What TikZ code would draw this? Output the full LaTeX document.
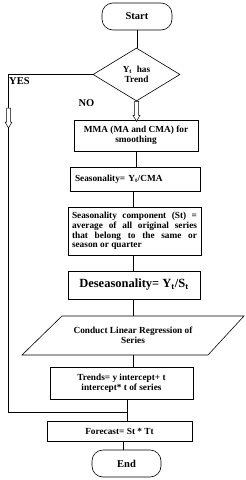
\documentclass[tikz,border=0pt]{standalone}
\usepackage{fontspec}
\setmainfont{Liberation Serif}
\usetikzlibrary{shapes.geometric,calc}
\tikzset{
  base/.style={draw, line width=0.6pt, inner sep=1pt, font=\bfseries\fontsize{9.3}{9.8}\selectfont, align=center},
  term/.style={base, rounded corners=11pt, font=\bfseries\fontsize{10.5}{12}\selectfont},
  proc/.style={base, rectangle},
  dec/.style={base, diamond, inner sep=0pt},
  conn/.style={draw, line width=0.6pt},
  lbl/.style={font=\bfseries\fontsize{10.5}{12}\selectfont, inner sep=0pt},
  pics/blockdown/.style={code={\draw[line width=0.5pt, fill=white] (-2,0) -- (-2,#1-6) -- (-3.5,#1-6) -- (0,#1) -- (3.5,#1-6) -- (2,#1-6) -- (2,0) -- cycle;}}
}
\newcommand{\sbt}[1]{\textsubscript{#1}}
\begin{document}
\begin{tikzpicture}[x=1pt,y=-1pt]
\useasboundingbox (0,0) rectangle (246,480);
\node[term, minimum width=70pt, minimum height=27pt] (start) at (137,16.5) {Start};
\node[dec, minimum width=87pt, minimum height=53pt] (dia) at (136.5,74.5) {Y\sbt{t}\ \ has\\Trend};
\node[proc, minimum width=124pt, minimum height=31pt] (mma) at (136,135.5) {MMA (MA and CMA) for\\smoothing};
\node[proc, minimum width=130pt, minimum height=24pt, text width=120pt, align=left] (seas) at (135,179) {Seasonality= Y\sbt{t}/CMA};
\node[proc, minimum width=133pt, minimum height=48pt, text width=125pt, align=justify] (comp) at (134.5,231) {Seasonality component (St) = average of all original series that belong to the same or \mbox{season} or quarter};
\node[proc, minimum width=132pt, minimum height=28pt, font=\bfseries\fontsize{12.5}{14}\selectfont] (des) at (134,285) {Deseasonality= Y\sbt{t}/S\sbt{t}};
\draw[line width=0.6pt] (62,316) -- (244,316) -- (208,355) -- (22,355) -- cycle;
\node[base, draw=none, minimum height=39pt, minimum width=150pt] (par) at (133,335.5) {Conduct Linear Regression of\\Series};
\node[proc, minimum width=143pt, minimum height=32pt] (tr) at (121.5,383) {Trends= y intercept+ t\\intercept* t of series};
\node[proc, minimum width=145pt, minimum height=20pt] (fc) at (119.5,431) {Forecast= St * Tt};
\node[term, minimum width=69pt, minimum height=27pt] (end) at (126.5,463.5) {End};
\coordinate (yes1) at (8,74.5);
\coordinate (yes2) at (8,412);
\coordinate (join) at (127,412);
\draw[conn] (start.south) -- (start.south |- dia.north);
\draw[conn] (mma.south) -- (mma.south |- seas.north);
\draw[conn] (133,191) -- (133,207);
\draw[conn] (133,255) -- (133,271);
\draw[conn] (133,299) -- (133,316);
\draw[conn] (133,355) -- (133,367);
\draw[conn] (127,399) -- (127,421);
\draw[conn] (123,441) -- (123,450);
\draw[conn] (dia.west) -- (yes1) -- (yes2) -- (join);
\pic at (dia.south) {blockdown=20};
\pic at (8.5,108) {blockdown=20};
\node[lbl, anchor=west] (yes) at (9,81) {YES};
\node[lbl] (no) at (86.5,103) {NO};
\end{tikzpicture}
\end{document}
